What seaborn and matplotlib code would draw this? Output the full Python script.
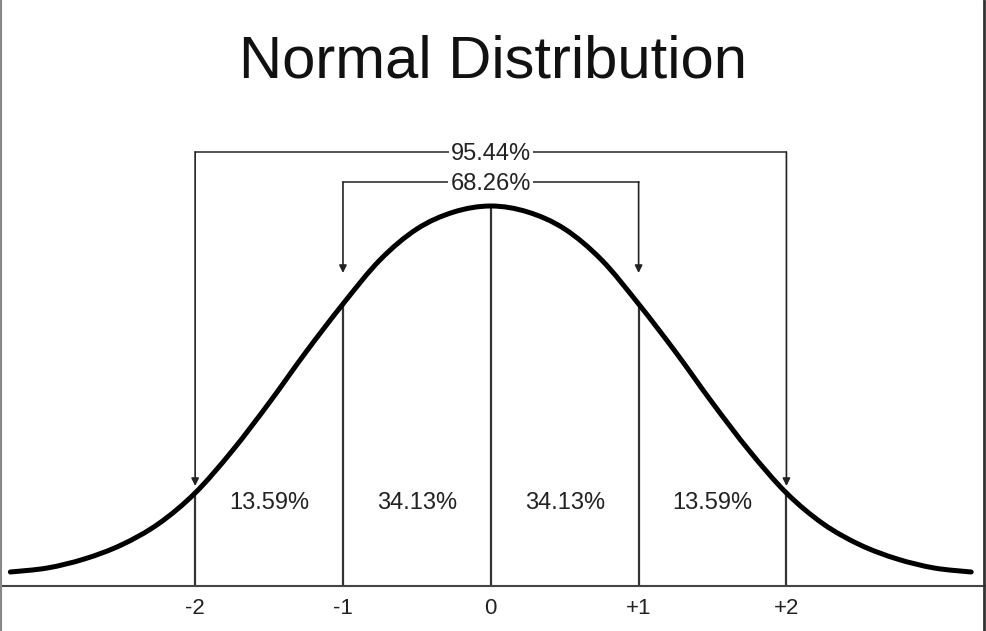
import numpy as np
import matplotlib
matplotlib.use('Agg')
import matplotlib.pyplot as plt
import seaborn as sns
from matplotlib.lines import Line2D
from matplotlib.path import Path
from matplotlib.patches import PathPatch

# curve heights (pixels above the axis line), per sigma step
z_values = [-3.25, -3.0, -2.75, -2.5, -2.25, -2.0, -1.75, -1.5, -1.25, -1.0,
            -0.75, -0.5, -0.25, 0.0, 0.25, 0.5, 0.75, 1.0, 1.25, 1.5,
            1.75, 2.0, 2.25, 2.5, 2.75, 3.0, 3.25]
curve_heights = [14, 18, 27, 41, 62, 93, 135, 183, 234, 282,
                 326, 357, 374, 380, 374, 357, 326, 282, 234, 183,
                 135, 93, 62, 41, 27, 18, 14]

sigma_marks = [-2, -1, 0, 1, 2]
sigma_labels = ['-2', '-1', '0', '+1', '+2']
band_labels = ['13.59%', '34.13%', '34.13%', '13.59%']
bracket_labels = ['95.44%', '68.26%']
bracket_sigma = [2, 1]


def smooth_path(xs, ys):
    """Catmull-Rom through the read points, drawn as cubic bezier segments"""
    pts = np.column_stack([xs, ys]).astype(float)
    padded = np.vstack([pts[0], pts, pts[-1]])
    verts = [pts[0]]
    codes = [Path.MOVETO]
    for i in range(1, len(padded) - 2):
        p0, p1, p2, p3 = padded[i - 1], padded[i], padded[i + 1], padded[i + 2]
        verts += [p1 + (p2 - p0) / 6, p2 - (p3 - p1) / 6, p2]
        codes += [Path.CURVE4] * 3
    return Path(verts, codes)


sns.set_style('white')
plt.rcParams['font.family'] = ['Liberation Sans', 'DejaVu Sans']

fig = plt.figure(figsize=(9.86, 6.31), dpi=100)
ax = fig.add_axes([0, 45 / 631, 1, 586 / 631])

# bell curve
curve = PathPatch(smooth_path(z_values, curve_heights), fc='none', ec='black',
                  lw=3.6, capstyle='round', joinstyle='round', zorder=3)
ax.add_patch(curve)

# vertical lines at each sigma
mark_heights = np.interp(sigma_marks, z_values, curve_heights)
ax.vlines(sigma_marks, 0, mark_heights, color='#333333', lw=1.6, zorder=2)

# brackets with arrows
bracket_tops = [434, 404]
arrow_tips = [100, 313]
for lab, s, top, tip in zip(bracket_labels, bracket_sigma, bracket_tops, arrow_tips):
    ax.plot([-s, s], [top, top], color='#333333', lw=1.2, zorder=2)
    for side in (-s, s):
        ax.annotate('', xy=(side, tip), xytext=(side, top),
                    arrowprops=dict(arrowstyle='-|>', color='#222222', lw=1.2,
                                    mutation_scale=11, shrinkA=0, shrinkB=0))
    ax.text(0, top - 8, lab, ha='center', va='baseline', fontsize=17,
            color='#222222', zorder=4,
            bbox=dict(fc='white', ec='none', pad=1.5))

# band percentages between sigma marks
band_centers = [(a + b) / 2 for a, b in zip(sigma_marks[:-1], sigma_marks[1:])]
for c, lab in zip(band_centers, band_labels):
    ax.text(c, 77, lab, ha='center', va='baseline', fontsize=17, color='#222222')

fig.text(0.5, 1 - 77 / 631, 'Normal Distribution', ha='center', va='baseline',
         fontsize=43, color='#111111')

ax.set_xlim(-3.32, 3.35)
ax.set_ylim(0, 586)
ax.set_xticks(sigma_marks, sigma_labels)
ax.tick_params(axis='x', length=0, pad=9, labelsize=16, labelcolor='#222222')
ax.set_yticks([])
for side in ('left', 'right', 'top'):
    ax.spines[side].set_visible(False)
ax.spines['bottom'].set_color('#444444')
ax.spines['bottom'].set_linewidth(1.5)

# thin frame lines at the left and right edges of the picture
fig.add_artist(Line2D([0.001, 0.001], [0, 1], transform=fig.transFigure,
                      color='#888888', lw=1.5))
fig.add_artist(Line2D([0.998, 0.998], [0, 1], transform=fig.transFigure,
                      color='#333333', lw=2))

fig.savefig('out.png', dpi=100, facecolor='white')
